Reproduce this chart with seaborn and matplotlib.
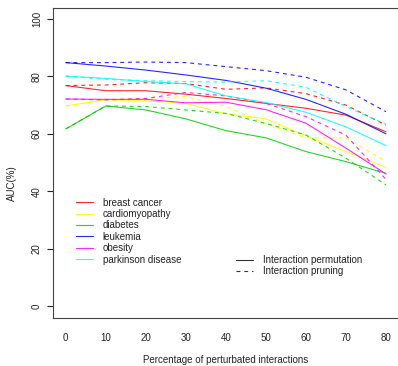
import matplotlib
matplotlib.use("Agg")
import matplotlib.pyplot as plt
from matplotlib.lines import Line2D
import numpy as np
import pandas as pd
import seaborn as sns

# Percentage of perturbated interactions
pct = [0, 10, 20, 30, 40, 50, 60, 70, 80]

diseases = ["breast cancer", "cardiomyopathy", "diabetes",
            "leukemia", "obesity", "parkinson disease"]
methods = ["Interaction permutation", "Interaction pruning"]

# AUC (%) for interaction permutation
perm_breast = [76.8, 75.0, 75.0, 73.8, 72.3, 70.6, 68.9, 66.5, 60.7]
perm_cardio = [69.7, 71.8, 71.5, 70.6, 67.0, 65.2, 59.3, 53.8, 48.3]
perm_diabetes = [61.7, 69.7, 68.3, 65.2, 61.1, 58.6, 53.8, 50.3, 46.2]
perm_leukemia = [84.8, 83.6, 82.2, 80.5, 78.6, 75.9, 72.0, 66.8, 60.0]
perm_obesity = [72.1, 72.0, 72.0, 70.8, 71.0, 68.4, 63.7, 55.0, 46.0]
perm_parkinson = [80.1, 79.3, 78.2, 77.4, 73.2, 70.9, 67.5, 62.4, 55.9]

# AUC (%) for interaction pruning
prun_breast = [76.8, 77.0, 77.8, 77.5, 75.5, 76.0, 74.0, 70.0, 63.0]
prun_cardio = [69.7, 72.0, 72.3, 73.0, 69.5, 63.6, 58.6, 58.5, 50.3]
prun_diabetes = [61.7, 69.7, 69.5, 68.3, 67.1, 63.6, 59.6, 51.5, 42.2]
prun_leukemia = [84.8, 84.8, 85.0, 84.8, 83.4, 82.0, 79.7, 75.3, 67.7]
prun_obesity = [72.1, 71.8, 72.3, 74.4, 73.2, 70.6, 66.0, 59.5, 44.1]
prun_parkinson = [80.1, 79.0, 78.5, 78.2, 78.0, 78.5, 76.2, 69.5, 63.3]

perm = [perm_breast, perm_cardio, perm_diabetes, perm_leukemia, perm_obesity, perm_parkinson]
prun = [prun_breast, prun_cardio, prun_diabetes, prun_leukemia, prun_obesity, prun_parkinson]

colors = ["#FF0000", "#FFFF00", "#00CD00", "#0000FF", "#FF00FF", "#00FFFF"]

rows = []
for d, a, b in zip(diseases, perm, prun):
    for p, v in zip(pct, a):
        rows.append((d, methods[0], p, v))
    for p, v in zip(pct, b):
        rows.append((d, methods[1], p, v))
df = pd.DataFrame(rows, columns=["disease", "method", "pct", "auc"])

sns.set_style("white")
plt.rcParams["font.family"] = ["Liberation Sans", "DejaVu Sans"]
text_color = "#222222"

W, H = 398, 366
fig = plt.figure(figsize=(W / 100, H / 100), dpi=100)
left, right, top, bottom = 53, 398.8, 7.5, 317.5
ax = fig.add_axes([left / W, 1 - bottom / H, (right - left) / W, (bottom - top) / H])

sns.lineplot(data=df, x="pct", y="auc", hue="disease", style="method",
             hue_order=diseases, style_order=methods,
             palette=dict(zip(diseases, colors)),
             dashes={methods[0]: "", methods[1]: (3.5, 3.5)},
             linewidth=0.8, alpha=0.85, legend=False, ax=ax)

ax.set_xlim(-3.2, 83.2)
ax.set_ylim(-4, 104)
ax.set_xticks(pct)
ax.set_yticks([0, 20, 40, 60, 80, 100])
ax.tick_params(axis="x", length=0, pad=11, labelsize=7, colors=text_color)
ax.tick_params(axis="y", length=4, width=0.8, pad=4, labelsize=7,
               colors=text_color, direction="out", left=True)
for lab in ax.get_yticklabels():
    lab.set_rotation(90)
    lab.set_va("center")
for s in ax.spines.values():
    s.set_color("#444444")
    s.set_linewidth(0.8)
ax.spines["right"].set_visible(False)

ax.set_xlabel("Percentage of perturbated interactions", fontsize=7, color=text_color)
ax.set_ylabel("AUC(%)", fontsize=7, color=text_color)
ax.xaxis.set_label_coords((left + right) / 2 / W, 1 - 355 / H, transform=fig.transFigure)
ax.yaxis.set_label_coords(12 / W, 0.5, transform=fig.transFigure)
ax.yaxis.label.set_va("center")

h1 = [Line2D([], [], color=c, lw=0.8, alpha=0.85) for c in colors]
leg1 = ax.legend(h1, diseases, loc="upper left",
                 bbox_to_anchor=(76 / W, 1 - 197.5 / H), bbox_transform=fig.transFigure,
                 frameon=False, fontsize=7, handlelength=1.75, handletextpad=1.0,
                 labelspacing=0.15, borderpad=0, borderaxespad=0, labelcolor=text_color)
ax.add_artist(leg1)

h2 = [Line2D([], [], color="#333333", lw=0.8),
      Line2D([], [], color="#333333", lw=0.8, dashes=(3.5, 3.5))]
ax.legend(h2, methods, loc="upper left",
          bbox_to_anchor=(236 / W, 1 - 255 / H), bbox_transform=fig.transFigure,
          frameon=False, fontsize=7, handlelength=1.75, handletextpad=1.0,
          labelspacing=0.15, borderpad=0, borderaxespad=0, labelcolor=text_color)

fig.savefig("out.png", dpi=100)
